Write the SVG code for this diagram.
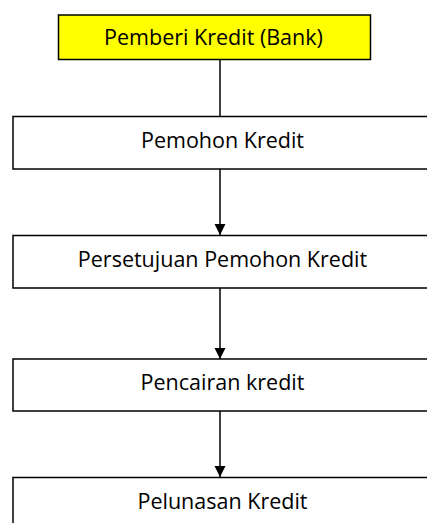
<svg xmlns="http://www.w3.org/2000/svg" width="427" height="523" viewBox="0 0 427 523">
<style>
.box{fill:#ffffff;stroke:#000000;stroke-width:1.5}
.top{fill:#ffff00;stroke:#000000;stroke-width:1.5}
.lbl{font-family:"Open Sans","Noto Sans",sans-serif;font-size:21.5px;fill:#000000;text-anchor:middle}
.con{stroke:#000000;stroke-width:1.5;fill:none}
</style>
<defs>
<marker id="arr" viewBox="0 0 10 10" refX="10" refY="5" markerWidth="11" markerHeight="12" markerUnits="userSpaceOnUse" orient="auto">
<path d="M0,0 L10,5 L0,10 Z" fill="#000000"/>
</marker>
</defs>
<g id="connectors">
<line class="con" x1="220" y1="59" x2="220" y2="116"/>
<line class="con" x1="220" y1="169" x2="220" y2="235" marker-end="url(#arr)"/>
<line class="con" x1="220" y1="288" x2="220" y2="359" marker-end="url(#arr)"/>
<line class="con" x1="220" y1="411" x2="220" y2="477" marker-end="url(#arr)"/>
</g>
<g id="bank">
<rect class="top" x="58.5" y="15" width="312" height="44.5"/>
<text class="lbl" x="213.5" y="45">Pemberi Kredit (Bank)</text>
</g>
<g id="pemohon">
<rect class="box" x="13" y="116.5" width="420" height="52.5"/>
<text class="lbl" x="222.5" y="147.5">Pemohon Kredit</text>
</g>
<g id="persetujuan">
<rect class="box" x="13" y="235.5" width="420" height="52.5"/>
<text class="lbl" x="222.5" y="266.5">Persetujuan Pemohon Kredit</text>
</g>
<g id="pencairan">
<rect class="box" x="13" y="359" width="420" height="52"/>
<text class="lbl" x="222.5" y="390">Pencairan kredit</text>
</g>
<g id="pelunasan">
<rect class="box" x="13" y="477.5" width="420" height="60"/>
<text class="lbl" x="222.5" y="509">Pelunasan Kredit</text>
</g>
</svg>
